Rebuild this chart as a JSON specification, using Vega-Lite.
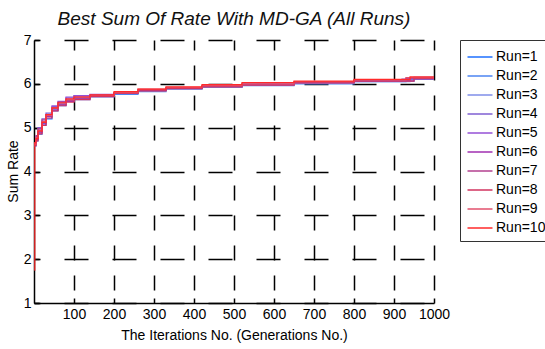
{
  "$schema": "https://vega.github.io/schema/vega-lite/v6.json",
  "autosize": {"type": "none"},
  "padding": {"left": 34, "top": 40, "right": 111, "bottom": 46},
  "width": 400,
  "height": 263,
  "background": "white",
  "config": {
    "view": {"stroke": null},
    "font": "Liberation Sans",
    "axis": {
      "domainColor": "black",
      "domainWidth": 1.5,
      "tickColor": "black",
      "tickSize": -5,
      "tickWidth": 1.5,
      "labelFont": "Liberation Sans",
      "labelFontSize": 14,
      "labelColor": "black",
      "labelOverlap": false,
      "labelFlush": false,
      "titleFont": "Liberation Sans",
      "titleFontSize": 14,
      "titleFontWeight": "normal",
      "titleColor": "black",
      "grid": true,
      "gridColor": "black",
      "gridWidth": 1.5,
      "gridOpacity": 1
    }
  },
  "title": {
    "text": "Best Sum Of Rate With MD-GA (All Runs)",
    "fontSize": 19,
    "fontStyle": "italic",
    "fontWeight": "normal",
    "font": "Liberation Sans",
    "color": "#111",
    "anchor": "middle",
    "offset": 4
  },
  "data": {
    "values": [
      {"run": "Run=1", "x": 1, "y": 4.62}, {"run": "Run=1", "x": 5, "y": 4.70}, {"run": "Run=1", "x": 10, "y": 4.85}, {"run": "Run=1", "x": 20, "y": 5.05}, {"run": "Run=1", "x": 30, "y": 5.20}, {"run": "Run=1", "x": 45, "y": 5.38}, {"run": "Run=1", "x": 60, "y": 5.50}, {"run": "Run=1", "x": 80, "y": 5.60}, {"run": "Run=1", "x": 100, "y": 5.66}, {"run": "Run=1", "x": 140, "y": 5.72}, {"run": "Run=1", "x": 200, "y": 5.78}, {"run": "Run=1", "x": 260, "y": 5.86}, {"run": "Run=1", "x": 330, "y": 5.90}, {"run": "Run=1", "x": 420, "y": 5.93}, {"run": "Run=1", "x": 520, "y": 5.97}, {"run": "Run=1", "x": 650, "y": 6.02}, {"run": "Run=1", "x": 800, "y": 6.06}, {"run": "Run=1", "x": 950, "y": 6.15}, {"run": "Run=1", "x": 1000, "y": 6.15},
      {"run": "Run=2", "x": 1, "y": 4.58}, {"run": "Run=2", "x": 5, "y": 4.72}, {"run": "Run=2", "x": 10, "y": 4.90}, {"run": "Run=2", "x": 20, "y": 5.10}, {"run": "Run=2", "x": 30, "y": 5.28}, {"run": "Run=2", "x": 45, "y": 5.42}, {"run": "Run=2", "x": 60, "y": 5.52}, {"run": "Run=2", "x": 80, "y": 5.60}, {"run": "Run=2", "x": 100, "y": 5.64}, {"run": "Run=2", "x": 140, "y": 5.70}, {"run": "Run=2", "x": 200, "y": 5.76}, {"run": "Run=2", "x": 260, "y": 5.82}, {"run": "Run=2", "x": 330, "y": 5.88}, {"run": "Run=2", "x": 420, "y": 5.92}, {"run": "Run=2", "x": 520, "y": 5.96}, {"run": "Run=2", "x": 650, "y": 6.00}, {"run": "Run=2", "x": 800, "y": 6.05}, {"run": "Run=2", "x": 930, "y": 6.10}, {"run": "Run=2", "x": 1000, "y": 6.10},
      {"run": "Run=3", "x": 1, "y": 4.65}, {"run": "Run=3", "x": 5, "y": 4.78}, {"run": "Run=3", "x": 10, "y": 4.95}, {"run": "Run=3", "x": 20, "y": 5.15}, {"run": "Run=3", "x": 30, "y": 5.30}, {"run": "Run=3", "x": 45, "y": 5.45}, {"run": "Run=3", "x": 60, "y": 5.55}, {"run": "Run=3", "x": 80, "y": 5.62}, {"run": "Run=3", "x": 100, "y": 5.67}, {"run": "Run=3", "x": 140, "y": 5.72}, {"run": "Run=3", "x": 200, "y": 5.78}, {"run": "Run=3", "x": 260, "y": 5.84}, {"run": "Run=3", "x": 330, "y": 5.89}, {"run": "Run=3", "x": 420, "y": 5.93}, {"run": "Run=3", "x": 520, "y": 5.97}, {"run": "Run=3", "x": 650, "y": 6.01}, {"run": "Run=3", "x": 800, "y": 6.05}, {"run": "Run=3", "x": 940, "y": 6.12}, {"run": "Run=3", "x": 1000, "y": 6.12},
      {"run": "Run=4", "x": 1, "y": 4.60}, {"run": "Run=4", "x": 5, "y": 4.80}, {"run": "Run=4", "x": 10, "y": 5.00}, {"run": "Run=4", "x": 20, "y": 5.20}, {"run": "Run=4", "x": 30, "y": 5.33}, {"run": "Run=4", "x": 45, "y": 5.48}, {"run": "Run=4", "x": 60, "y": 5.58}, {"run": "Run=4", "x": 80, "y": 5.68}, {"run": "Run=4", "x": 100, "y": 5.72}, {"run": "Run=4", "x": 140, "y": 5.75}, {"run": "Run=4", "x": 200, "y": 5.80}, {"run": "Run=4", "x": 260, "y": 5.85}, {"run": "Run=4", "x": 330, "y": 5.90}, {"run": "Run=4", "x": 420, "y": 5.94}, {"run": "Run=4", "x": 520, "y": 5.98}, {"run": "Run=4", "x": 650, "y": 6.02}, {"run": "Run=4", "x": 800, "y": 6.06}, {"run": "Run=4", "x": 920, "y": 6.11}, {"run": "Run=4", "x": 1000, "y": 6.11},
      {"run": "Run=5", "x": 1, "y": 4.63}, {"run": "Run=5", "x": 5, "y": 4.76}, {"run": "Run=5", "x": 10, "y": 4.92}, {"run": "Run=5", "x": 20, "y": 5.12}, {"run": "Run=5", "x": 30, "y": 5.30}, {"run": "Run=5", "x": 45, "y": 5.50}, {"run": "Run=5", "x": 60, "y": 5.60}, {"run": "Run=5", "x": 80, "y": 5.70}, {"run": "Run=5", "x": 100, "y": 5.73}, {"run": "Run=5", "x": 140, "y": 5.76}, {"run": "Run=5", "x": 200, "y": 5.80}, {"run": "Run=5", "x": 260, "y": 5.85}, {"run": "Run=5", "x": 330, "y": 5.90}, {"run": "Run=5", "x": 420, "y": 5.95}, {"run": "Run=5", "x": 520, "y": 5.98}, {"run": "Run=5", "x": 650, "y": 6.03}, {"run": "Run=5", "x": 800, "y": 6.07}, {"run": "Run=5", "x": 950, "y": 6.12}, {"run": "Run=5", "x": 1000, "y": 6.12},
      {"run": "Run=6", "x": 1, "y": 4.61}, {"run": "Run=6", "x": 5, "y": 4.74}, {"run": "Run=6", "x": 10, "y": 4.88}, {"run": "Run=6", "x": 20, "y": 5.08}, {"run": "Run=6", "x": 30, "y": 5.25}, {"run": "Run=6", "x": 45, "y": 5.40}, {"run": "Run=6", "x": 60, "y": 5.52}, {"run": "Run=6", "x": 80, "y": 5.60}, {"run": "Run=6", "x": 100, "y": 5.66}, {"run": "Run=6", "x": 140, "y": 5.72}, {"run": "Run=6", "x": 200, "y": 5.79}, {"run": "Run=6", "x": 260, "y": 5.85}, {"run": "Run=6", "x": 330, "y": 5.90}, {"run": "Run=6", "x": 420, "y": 5.95}, {"run": "Run=6", "x": 520, "y": 5.99}, {"run": "Run=6", "x": 650, "y": 6.03}, {"run": "Run=6", "x": 800, "y": 6.07}, {"run": "Run=6", "x": 930, "y": 6.13}, {"run": "Run=6", "x": 1000, "y": 6.13},
      {"run": "Run=7", "x": 1, "y": 4.64}, {"run": "Run=7", "x": 5, "y": 4.82}, {"run": "Run=7", "x": 10, "y": 4.98}, {"run": "Run=7", "x": 20, "y": 5.18}, {"run": "Run=7", "x": 30, "y": 5.30}, {"run": "Run=7", "x": 45, "y": 5.44}, {"run": "Run=7", "x": 60, "y": 5.54}, {"run": "Run=7", "x": 80, "y": 5.62}, {"run": "Run=7", "x": 100, "y": 5.68}, {"run": "Run=7", "x": 140, "y": 5.73}, {"run": "Run=7", "x": 200, "y": 5.80}, {"run": "Run=7", "x": 260, "y": 5.86}, {"run": "Run=7", "x": 330, "y": 5.91}, {"run": "Run=7", "x": 420, "y": 5.95}, {"run": "Run=7", "x": 520, "y": 6.00}, {"run": "Run=7", "x": 650, "y": 6.04}, {"run": "Run=7", "x": 800, "y": 6.08}, {"run": "Run=7", "x": 940, "y": 6.13}, {"run": "Run=7", "x": 1000, "y": 6.13},
      {"run": "Run=8", "x": 1, "y": 4.59}, {"run": "Run=8", "x": 5, "y": 4.70}, {"run": "Run=8", "x": 10, "y": 4.86}, {"run": "Run=8", "x": 20, "y": 5.05}, {"run": "Run=8", "x": 30, "y": 5.22}, {"run": "Run=8", "x": 45, "y": 5.38}, {"run": "Run=8", "x": 60, "y": 5.50}, {"run": "Run=8", "x": 80, "y": 5.58}, {"run": "Run=8", "x": 100, "y": 5.64}, {"run": "Run=8", "x": 140, "y": 5.71}, {"run": "Run=8", "x": 200, "y": 5.78}, {"run": "Run=8", "x": 260, "y": 5.84}, {"run": "Run=8", "x": 330, "y": 5.89}, {"run": "Run=8", "x": 420, "y": 5.93}, {"run": "Run=8", "x": 520, "y": 5.97}, {"run": "Run=8", "x": 650, "y": 6.02}, {"run": "Run=8", "x": 800, "y": 6.06}, {"run": "Run=8", "x": 950, "y": 6.12}, {"run": "Run=8", "x": 1000, "y": 6.12},
      {"run": "Run=9", "x": 1, "y": 4.62}, {"run": "Run=9", "x": 5, "y": 4.78}, {"run": "Run=9", "x": 10, "y": 4.94}, {"run": "Run=9", "x": 20, "y": 5.14}, {"run": "Run=9", "x": 30, "y": 5.28}, {"run": "Run=9", "x": 45, "y": 5.45}, {"run": "Run=9", "x": 60, "y": 5.56}, {"run": "Run=9", "x": 80, "y": 5.64}, {"run": "Run=9", "x": 100, "y": 5.70}, {"run": "Run=9", "x": 140, "y": 5.74}, {"run": "Run=9", "x": 200, "y": 5.80}, {"run": "Run=9", "x": 260, "y": 5.88}, {"run": "Run=9", "x": 330, "y": 5.92}, {"run": "Run=9", "x": 420, "y": 5.96}, {"run": "Run=9", "x": 520, "y": 6.00}, {"run": "Run=9", "x": 650, "y": 6.05}, {"run": "Run=9", "x": 800, "y": 6.09}, {"run": "Run=9", "x": 930, "y": 6.14}, {"run": "Run=9", "x": 1000, "y": 6.14},
      {"run": "Run=10", "x": 1, "y": 1.75}, {"run": "Run=10", "x": 2, "y": 4.66}, {"run": "Run=10", "x": 5, "y": 4.75}, {"run": "Run=10", "x": 10, "y": 4.92}, {"run": "Run=10", "x": 20, "y": 5.12}, {"run": "Run=10", "x": 30, "y": 5.30}, {"run": "Run=10", "x": 45, "y": 5.45}, {"run": "Run=10", "x": 60, "y": 5.58}, {"run": "Run=10", "x": 80, "y": 5.66}, {"run": "Run=10", "x": 100, "y": 5.70}, {"run": "Run=10", "x": 140, "y": 5.75}, {"run": "Run=10", "x": 200, "y": 5.82}, {"run": "Run=10", "x": 260, "y": 5.88}, {"run": "Run=10", "x": 330, "y": 5.93}, {"run": "Run=10", "x": 420, "y": 5.98}, {"run": "Run=10", "x": 520, "y": 6.03}, {"run": "Run=10", "x": 650, "y": 6.06}, {"run": "Run=10", "x": 800, "y": 6.10}, {"run": "Run=10", "x": 940, "y": 6.16}, {"run": "Run=10", "x": 1000, "y": 6.16}
    ]
  },
  "mark": {"type": "line", "interpolate": "step-after", "strokeWidth": 1.2},
  "encoding": {
    "x": {
      "field": "x",
      "type": "quantitative",
      "scale": {"domain": [0, 1000], "nice": false},
      "axis": {
        "values": [100, 200, 300, 400, 500, 600, 700, 800, 900, 1000],
        "format": "d",
        "title": "The Iterations No. (Generations No.)",
        "labelPadding": 9,
        "titlePadding": 7,
        "gridDash": [15, 15],
        "gridDashOffset": 5
      }
    },
    "y": {
      "field": "y",
      "type": "quantitative",
      "scale": {"domain": [1, 7], "nice": false},
      "axis": {
        "values": [1, 2, 3, 4, 5, 6, 7],
        "format": "d",
        "title": "Sum Rate",
        "labelPadding": 8,
        "titleX": -17,
        "titleY": 131,
        "titleAnchor": "middle",
        "titleBaseline": "alphabetic",
        "gridDash": [24, 24],
        "gridDashOffset": 18
      }
    },
    "color": {
      "field": "run",
      "type": "nominal",
      "scale": {
        "domain": ["Run=1", "Run=2", "Run=3", "Run=4", "Run=5", "Run=6", "Run=7", "Run=8", "Run=9", "Run=10"],
        "range": ["#1e6fff", "#4d84f2", "#7f8ee8", "#7f5fd2", "#9550d6", "#a02fb0", "#b3418f", "#d2335f", "#e2506c", "#ff2a2a"]
      },
      "legend": {
        "title": null,
        "orient": "none",
        "legendX": 426,
        "legendY": 0,
        "symbolType": "M-1.25,0H1.25",
        "symbolSize": 400,
        "symbolStrokeWidth": 1.5,
        "symbolOffset": 3,
        "labelFontSize": 14,
        "labelFont": "Liberation Sans",
        "labelColor": "black",
        "labelOffset": 5,
        "rowPadding": 1,
        "padding": 6,
        "strokeColor": "#333",
        "fillColor": "white"
      }
    }
  }
}
